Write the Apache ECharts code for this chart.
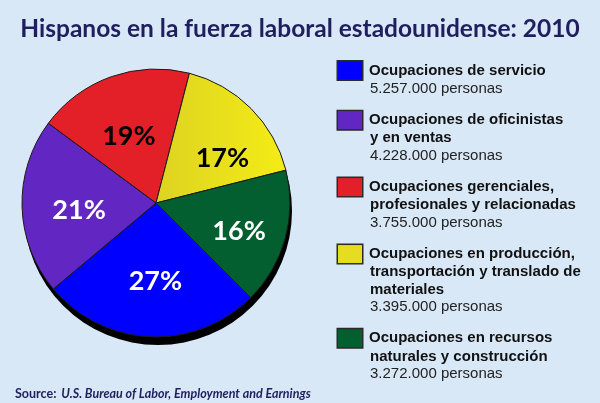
<!DOCTYPE html>
<html>
<head>
<meta charset="utf-8">
<script src="https://cdn.jsdelivr.net/npm/echarts@6/dist/echarts.min.js"></script>
<style>
  html, body { margin: 0; padding: 0; background: #D9E8F7; }
  #chart { width: 600px; height: 403px; }
</style>
</head>
<body>
<div id="chart"></div>
<script>
// datos: ocupaciones de hispanos, 2010
var categorias = [
	'Ocupaciones de servicio',
	'Ocupaciones de oficinistas y en ventas',
	'Ocupaciones gerenciales, profesionales y relacionadas',
	'Ocupaciones en producción, transportación y translado de materiales',
	'Ocupaciones en recursos naturales y construcción'
];
// lineas del texto de la leyenda
var lineasLeyenda = [
	['Ocupaciones de servicio'],
	['Ocupaciones de oficinistas', 'y en ventas'],
	['Ocupaciones gerenciales,', 'profesionales y relacionadas'],
	['Ocupaciones en producción,', 'transportación y translado de', 'materiales'],
	['Ocupaciones en recursos', 'naturales y construcción']
];
var personas = [5257000, 4228000, 3755000, 3395000, 3272000];
var porcentajes = ['27%', '21%', '19%', '17%', '16%'];

var colores = ['#0000FF', '#6227C2', '#E32027', '#E6DC20', '#035F2F'];
var coloresEtiqueta = ['#FFFFFF', '#FFFFFF', '#000000', '#000000', '#FFFFFF'];
// pequeño ajuste de la posicion de cada etiqueta (px)
var ajusteEtiqueta = [[3, -3], [4, 5], [0, 10], [9, 12], [5, 7]];

//formato 5.257.000
function formatoNum(n){
	return String(n).replace(/\B(?=(\d{3})+(?!\d))/g, '.');
}

var myChart = echarts.init(document.getElementById('chart'));

var rich = {
	g: { width: 7 },
	ind: { width: 32 },
	t: {
		fontFamily: "'Liberation Sans', Arial, sans-serif",
		fontWeight: 'bold',
		fontSize: 15,
		lineHeight: 17.3,
		color: '#111'
	},
	v: {
		fontFamily: "'Liberation Sans Narrow', 'Liberation Sans', sans-serif",
		fontSize: 15,
		lineHeight: 17.3,
		color: '#222'
	}
};
for (var i = 0; i < colores.length; i++) {
	rich['b' + i] = {
		width: 24,
		height: 18,
		lineHeight: 19,
		backgroundColor: colores[i],
		borderColor: '#2a2a2a',
		borderWidth: 1.5
	};
}

var datosPie = [];
var datosEtiquetas = [];
for (var i = 0; i < categorias.length; i++) {
	var color = colores[i];
	if (i === 3) {
		// el amarillo se aclara hacia la derecha
		color = {
			type: 'linear', x: 0, y: 0, x2: 1, y2: 0,
			colorStops: [{ offset: 0, color: '#DDD322' }, { offset: 1, color: '#F4EC16' }]
		};
	}
	datosPie.push({
		name: categorias[i],
		value: personas[i],
		itemStyle: { color: color }
	});
	datosEtiquetas.push({
		name: categorias[i],
		value: personas[i],
		label: { color: coloresEtiqueta[i] }
	});
}

var option = {
	backgroundColor: '#D9E8F7',
	animation: false,
	title: [
		{
			text: 'Hispanos en la fuerza laboral estadounidense: 2010',
			left: 'center',
			top: 12,
			textStyle: {
				fontFamily: 'Lato, sans-serif',
				fontWeight: 'bold',
				fontSize: 24.5,
				color: '#1F1E5E'
			}
		},
		{
			text: '{b|Source:} {i|U.S. Bureau of Labor, Employment and Earnings}',
			left: 10,
			top: 380,
			textStyle: {
				rich: {
					b: { fontFamily: 'Lato, sans-serif', fontWeight: 'bold', fontSize: 12.5, color: '#1F1E5E' },
					i: { fontFamily: 'Lato, sans-serif', fontStyle: 'italic', fontSize: 12.5, color: '#1F1E5E' }
				}
			}
		}
	],
	legend: {
		data: categorias,
		orient: 'vertical',
		left: 333,
		top: 60,
		padding: 0,
		icon: 'none',
		itemWidth: 0,
		itemHeight: 10,
		itemGap: 13.5,
		selectedMode: false,
		formatter: function (name) {
			var idx = categorias.indexOf(name);
			var lineas = lineasLeyenda[idx];
			var s = '{b' + idx + '|}{g|}{t|' + lineas[0] + '}';
			for (var k = 1; k < lineas.length; k++) {
				s += '\n{ind|}{t|' + lineas[k] + '}';
			}
			s += '\n{ind|}{v|' + formatoNum(personas[idx]) + ' personas}';
			return s;
		},
		textStyle: { rich: rich }
	},
	series: [
		{
			// sombra negra debajo del pastel
			type: 'pie',
			center: [158, 211],
			radius: 134,
			silent: true,
			z: 1,
			label: { show: false },
			labelLine: { show: false },
			itemStyle: { color: '#000' },
			data: [{ name: 'sombra', value: 1 }]
		},
		{
			type: 'pie',
			center: [156, 203],
			radius: 134,
			startAngle: -45,
			clockwise: true,
			silent: true,
			z: 2,
			label: { show: false },
			labelLine: { show: false },
			itemStyle: { borderColor: '#1a1a1a', borderWidth: 1 },
			data: datosPie
		},
		{
			// solo etiquetas de porcentaje
			type: 'pie',
			center: [156, 203],
			radius: [22, 134],
			startAngle: -45,
			clockwise: true,
			silent: true,
			z: 3,
			itemStyle: { color: 'rgba(0,0,0,0)', borderWidth: 0 },
			label: {
				show: true,
				position: 'inside',
				fontFamily: 'Lato, sans-serif',
				fontWeight: 'bold',
				fontSize: 27,
				formatter: function (p) {
					return porcentajes[p.dataIndex];
				}
			},
			labelLayout: function (p) {
				var a = ajusteEtiqueta[p.dataIndex];
				return { dx: a[0], dy: a[1] };
			},
			labelLine: { show: false },
			data: datosEtiquetas
		}
	]
};
myChart.setOption(option);
</script>
</body>
</html>
